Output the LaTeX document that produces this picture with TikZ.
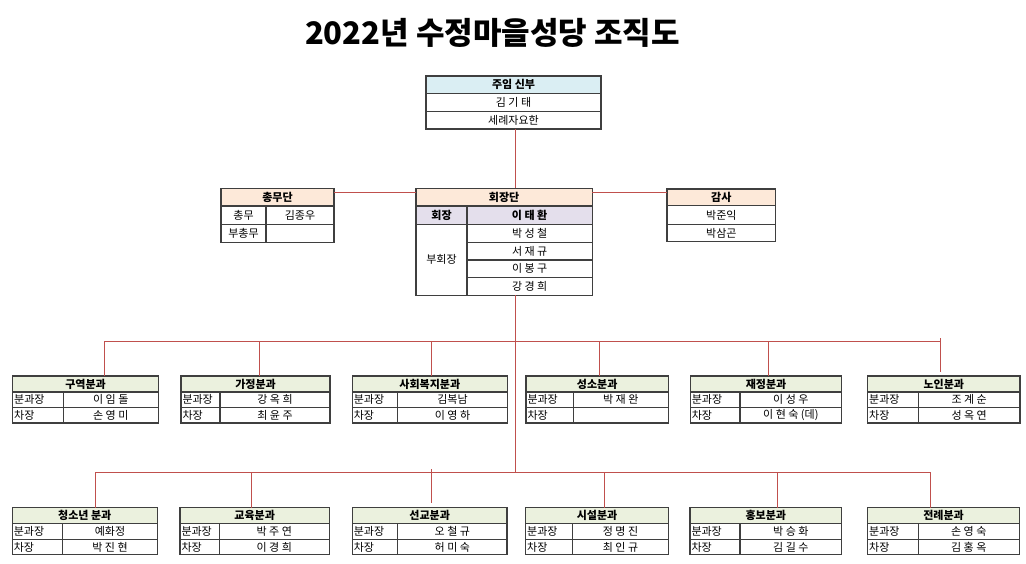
\documentclass[tikz,border=0pt]{standalone}
\usepackage{fontspec}
\newfontfamily\kr{Noto Sans CJK KR}
\usetikzlibrary{calc}
\definecolor{peach}{HTML}{FDE9D9}
\definecolor{lav}{HTML}{E4DFEC}
\definecolor{lblue}{HTML}{DAEEF3}
\definecolor{dgreen}{HTML}{EBF1DE}
\definecolor{lnred}{HTML}{C0504D}
\definecolor{bd}{HTML}{3F3F3F}
\tikzset{
  cell/.style={draw=bd, line width=1.1pt, inner sep=0pt, outer sep=0pt, anchor=north west,
    font=\kr\fontsize{11}{13}\selectfont, text=black},
  hcell/.style={cell, font=\kr\bfseries\fontsize{11}{13}\selectfont},
  txt/.style={inner sep=0pt, outer sep=0pt, anchor=west, font=\kr\fontsize{11}{13}\selectfont},
  conn/.style={draw=lnred, line width=1pt},
}
\newcommand\cellat[7]{%
  \pgfmathsetmacro\cwd{(#4)-(#2)}\pgfmathsetmacro\cht{(#5)-(#3)}%
  \node[cell,#6,minimum width=\cwd pt,minimum height=\cht pt] (#1) at ({#2},{#3}) {#7};}
\newcommand\labcell[6]{%
  \cellat{#1}{#2}{#3}{#4}{#5}{}{}%
  \node[txt] (#1t) at ({(#2)+1.5},{((#3)+(#5))/2}) {#6};}
\newcommand\divbox[8]{%
  \cellat{#1}{#2}{#5}{#3}{#5+16}{hcell,fill=dgreen}{#6}%
  \labcell{#1a}{#2}{#5+16}{#4}{#5+31.5}{분과장}%
  \cellat{#1b}{#4}{#5+16}{#3}{#5+31.5}{}{#7}%
  \labcell{#1c}{#2}{#5+31.5}{#4}{#5+47}{차장}%
  \cellat{#1d}{#4}{#5+31.5}{#3}{#5+47}{}{#8}}
\begin{document}
\begin{tikzpicture}[x=1pt,y=-1pt]
\fill[white] (0,0) rectangle (1026,563);
\useasboundingbox (0,0) rectangle (1026,563);
\node[font=\kr\bfseries\fontsize{31}{33}\selectfont, inner sep=0pt] (title) at (492.5,33) {2022년 수정마을성당 조직도};
% pastor
\cellat{pr}{426}{76}{601}{93.3}{hcell,fill=lblue}{주임 신부}
\cellat{pr2}{426}{93.3}{601}{111.3}{}{김 기 태}
\cellat{pr3}{426}{111.3}{601}{129}{}{세례자요한}
% general affairs
\cellat{cm}{221}{188.3}{334}{206}{hcell,fill=peach}{총무단}
\cellat{cm1}{221}{206}{266}{224.3}{}{총무}
\cellat{cm2}{266}{206}{334}{224.3}{}{김종우}
\cellat{cm3}{221}{224.3}{266}{242.3}{}{부총무}
\cellat{cm4}{266}{224.3}{334}{242.3}{}{}
% presidency
\cellat{hj}{416}{188.3}{592.3}{206}{hcell,fill=peach}{회장단}
\cellat{hj1}{416}{206}{467}{224.3}{hcell,fill=lav}{회장}
\cellat{hj2}{467}{206}{592.3}{224.3}{hcell,fill=lav}{이 태 환}
\cellat{hj3}{416}{224.3}{467}{295.3}{}{부회장}
\cellat{hj4}{467}{224.3}{592.3}{242.3}{}{박 성 철}
\cellat{hj5}{467}{242.3}{592.3}{260}{}{서 재 규}
\cellat{hj6}{467}{260}{592.3}{277.7}{}{이 봉 구}
\cellat{hj7}{467}{277.7}{592.3}{295.3}{}{강 경 희}
% audit
\cellat{gs}{667}{189}{775.7}{205.7}{hcell,fill=peach}{감사}
\cellat{gs1}{667}{205.7}{775.7}{224.3}{}{박준익}
\cellat{gs2}{667}{224.3}{775.7}{241.7}{}{박삼곤}
% divisions row 1
\divbox{b1}{12.7}{158.3}{63.3}{376}{구역분과}{이 임 돌}{손 영 미}
\divbox{b2}{181}{330}{220}{376}{가정분과}{강 옥 희}{최 윤 주}
\divbox{b3}{352.3}{507.3}{397.7}{376}{사회복지분과}{김복남}{이 영 하}
\divbox{b4}{526}{668.3}{573.3}{376}{성소분과}{박 재 완}{}
\divbox{b5}{690.3}{841.7}{740}{376}{재정분과}{이 성 우}{이 현 숙 (데)}
\divbox{b6}{867.7}{1020}{918.3}{376}{노인분과}{조 계 순}{성 옥 연}
% divisions row 2
\divbox{c1}{12.3}{157.3}{62.7}{507.7}{청소년 분과}{예화정}{박 진 현}
\divbox{c2}{180}{329.3}{219.3}{507.7}{교육분과}{박 주 연}{이 경 희}
\divbox{c3}{352.3}{507}{397.7}{507.7}{선교분과}{오 철 규}{허 미 숙}
\divbox{c4}{525.7}{668.3}{572.7}{507.7}{시설분과}{정 명 진}{최 인 규}
\divbox{c5}{690}{841.7}{740}{507.7}{홍보분과}{박 승 화}{김 길 수}
\divbox{c6}{867.7}{1019.3}{918.3}{507.7}{전례분과}{손 영 숙}{김 홍 옥}
% connectors
\coordinate (trunk) at (515,300);
\draw[conn] (pr3.south -| trunk) -- (hj.north -| trunk);
\draw[conn] ([yshift=4.5pt]cm.east) -- ([yshift=4.5pt]cm.east -| hj.west);
\draw[conn] ([yshift=4.5pt]hj.east) -- ([yshift=4.5pt]hj.east -| gs.west);
\coordinate (bus1L) at (104.3,341.7);
\coordinate (bus1R) at (940,341.7);
\coordinate (bus2L) at (95,472.3);
\coordinate (bus2R) at (930.7,472.3);
\draw[conn] (hj3.south -| trunk) -- (bus2L -| trunk);
\draw[conn] (bus1L) -- (bus1R);
\draw[conn] (bus2L) -- (bus2R);
\coordinate (d2) at (259.7,341.7);
\coordinate (d3) at (431.7,341.7);
\coordinate (d4) at (599.3,341.7);
\coordinate (d5) at (768.3,341.7);
\coordinate (d6t) at (940,338);
\coordinate (d6b) at (940,372);
\draw[conn] (bus1L) -- (bus1L |- b1.north);
\draw[conn] (d2) -- (d2 |- b2.north);
\draw[conn] (d3) -- (d3 |- b3.north);
\draw[conn] (d4) -- (d4 |- b4.north);
\draw[conn] (d5) -- (d5 |- b5.north);
\draw[conn] (d6t) -- (d6b);
\coordinate (e2) at (251.3,472.3);
\coordinate (e3t) at (431,469);
\coordinate (e3b) at (431,503);
\coordinate (e4) at (604.7,472.3);
\coordinate (e5) at (777.3,472.3);
\draw[conn] (bus2L) -- (bus2L |- c1.north);
\draw[conn] (e2) -- (e2 |- c2.north);
\draw[conn] (e3t) -- (e3b);
\draw[conn] (e4) -- (e4 |- c4.north);
\draw[conn] (e5) -- (e5 |- c5.north);
\draw[conn] (bus2R) -- (bus2R |- c6.north);
\end{tikzpicture}
\end{document}
